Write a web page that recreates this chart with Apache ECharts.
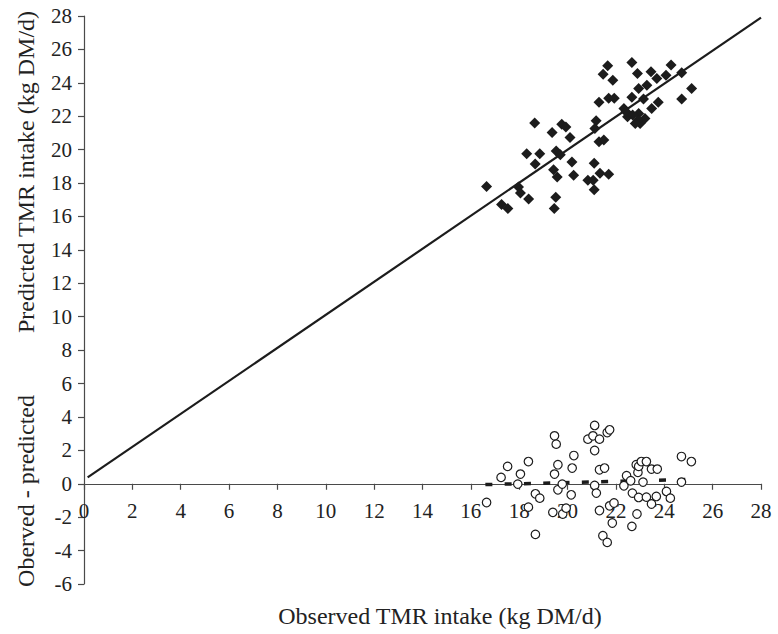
<!DOCTYPE html>
<html>
<head>
<meta charset="utf-8">
<title>Observed vs predicted TMR intake</title>
<script src="https://cdn.jsdelivr.net/npm/echarts@6/dist/echarts.min.js"></script>
<style>
  html, body { margin: 0; padding: 0; background: #ffffff; }
  #chart { width: 778px; height: 634px; }
</style>
</head>
<body>
<div id="chart"></div>
<script>
// Axis ticks (both axes step by 2)
var xTicks = [0, 2, 4, 6, 8, 10, 12, 14, 16, 18, 20, 22, 24, 26, 28];
var yTicks = [-6, -4, -2, 0, 2, 4, 6, 8, 10, 12, 14, 16, 18, 20, 22, 24, 26, 28];

// Observed intake (kg DM/d) for each diet/period
var observed = [16.65, 17.27, 17.53, 17.97, 18.05, 18.39, 18.31, 18.66, 18.85, 18.64,
                19.36, 19.76, 19.93, 20.10, 19.53, 19.70, 19.42, 19.57, 20.18, 20.25,
                19.51, 19.45, 20.84, 21.06, 21.10, 21.10, 21.34, 21.70, 21.18, 21.13,
                21.30, 21.50, 21.30, 21.70, 21.93, 21.47, 21.66, 21.87, 22.33, 22.48,
                22.66, 22.66, 22.89, 22.94, 23.14, 23.28, 23.45, 23.69, 23.48, 23.75,
                24.07, 24.28, 22.94, 23.00, 23.20, 24.72, 25.13, 24.72, 22.92, 22.80,
                22.42, 22.69];
// Predicted intake (kg DM/d)
var predicted = [17.80, 16.72, 16.47, 17.77, 17.40, 17.05, 19.75, 19.14, 19.75, 21.60,
                 21.03, 21.52, 21.35, 20.73, 19.92, 19.70, 18.80, 18.36, 19.26, 18.46,
                 17.15, 16.47, 18.17, 18.17, 17.60, 19.18, 18.58, 18.52, 21.73, 21.27,
                 20.47, 20.57, 22.83, 23.07, 23.07, 24.52, 25.02, 24.16, 22.47, 21.97,
                 23.13, 25.22, 24.56, 23.66, 23.03, 23.86, 24.66, 24.26, 22.47, 22.83,
                 24.46, 25.06, 22.17, 21.57, 21.87, 24.60, 23.66, 23.03, 21.77, 21.57,
                 22.27, 22.07];

// Residuals: observed minus predicted, plotted against observed
var residX = [16.65, 17.25, 17.52, 17.94, 18.05, 18.38, 18.38, 18.67, 18.85, 18.67,
              19.46, 19.53, 19.60, 19.46, 19.60, 19.78, 19.39, 19.80, 19.94, 20.26,
              20.19, 20.15, 20.84, 21.05, 21.12, 21.32, 21.12, 21.64, 21.74, 21.32,
              21.53, 21.12, 21.19, 21.32, 21.74, 21.92, 21.85, 21.46, 21.64, 22.44,
              22.33, 22.61, 22.68, 22.66, 22.87, 22.94, 22.91, 22.84, 22.94, 23.05,
              23.26, 23.12, 23.26, 23.47, 23.47, 23.71, 23.67, 24.09, 24.25, 24.71,
              25.12, 24.71];
var residY = [-1.12, 0.38, 1.04, -0.02, 0.58, 1.33, -1.40, -0.60, -0.86, -3.03,
              2.87, 2.37, 1.14, 0.58, -0.36, -0.02, -1.71, -1.81, -1.46, 1.69,
              0.94, -0.66, 2.67, 2.87, 3.49, 2.67, 1.99, 3.07, 3.23, 0.84,
              0.94, -0.10, -0.56, -1.60, -1.32, -1.15, -2.35, -3.11, -3.51, 0.48,
              -0.12, 0.18, -0.56, -2.55, -1.81, -0.82, 0.68, 1.14, 1.04, 1.33,
              1.33, 0.10, -0.80, -1.21, 0.88, 0.88, -0.76, -0.46, -0.86, 1.63,
              1.33, 0.10];

// Fitted line of predicted on observed, and of residual on observed
var fitX = [0.15, 28.0];
var fitY = [0.38, 27.9];
var residFitX = [16.6, 24.9];
var residFitY = [-0.05, 0.25];

// Axis titles
var xTitle = 'Observed TMR intake (kg DM/d)';
var yTitleTop = 'Predicted TMR intake (kg DM/d)';
var yTitleBottom = 'Oberved - predicted';

function pairs(xs, ys) {
  return xs.map(function (x, i) { return [x, ys[i]]; });
}

var SERIF = "'Liberation Serif', 'Times New Roman', serif";
var INK = '#1c1c1c';
var AXIS = '#4a4a4a';

var chart = echarts.init(document.getElementById('chart'), null, { renderer: 'svg' });

chart.setOption({
  backgroundColor: '#ffffff',
  animation: false,
  grid: { left: 84, right: 17, top: 16, bottom: 50, containLabel: false },
  xAxis: {
    type: 'value',
    min: xTicks[0],
    max: xTicks[xTicks.length - 1],
    interval: 2,
    offset: 0,
    axisLine: { onZero: false, lineStyle: { color: AXIS, width: 1.2 } },
    axisTick: { show: true, inside: false, length: 6, lineStyle: { color: AXIS, width: 1.2 } },
    axisLabel: { color: '#222', fontFamily: SERIF, fontSize: 21, margin: 17 },
    splitLine: { show: false }
  },
  yAxis: {
    type: 'value',
    min: yTicks[0],
    max: yTicks[yTicks.length - 1],
    interval: 2,
    axisLine: { show: true, onZero: false, lineStyle: { color: AXIS, width: 1.2 } },
    axisTick: { show: true, inside: false, length: 6, lineStyle: { color: AXIS, width: 1.2 } },
    axisLabel: { color: '#222', fontFamily: SERIF, fontSize: 21, margin: 12 },
    splitLine: { show: false }
  },
  graphic: [
    {
      type: 'text', x: 26, y: 172, rotation: Math.PI / 2,
      style: { text: yTitleTop, fill: '#222',
               font: '24px ' + SERIF, align: 'center', verticalAlign: 'middle' }
    },
    {
      type: 'text', x: 26, y: 491, rotation: Math.PI / 2,
      style: { text: yTitleBottom, fill: '#222',
               font: '24px ' + SERIF, align: 'center', verticalAlign: 'middle' }
    },
    {
      type: 'text', x: 440, y: 616,
      style: { text: xTitle, fill: '#222',
               font: '24px ' + SERIF, align: 'center', verticalAlign: 'middle' }
    }
  ],
  series: [
    {
      name: 'fit',
      type: 'line',
      data: pairs(fitX, fitY),
      showSymbol: false,
      lineStyle: { color: INK, width: 2.2 },
      z: 2
    },
    {
      name: 'predicted',
      type: 'scatter',
      data: pairs(observed, predicted),
      symbol: 'diamond',
      symbolSize: 11,
      itemStyle: { color: INK, opacity: 1 },
      z: 3
    },
    {
      name: 'residual fit',
      type: 'line',
      data: pairs(residFitX, residFitY),
      showSymbol: false,
      lineStyle: { color: INK, width: 3.5, type: [7, 12.3] },
      z: 2
    },
    {
      name: 'residual',
      type: 'scatter',
      data: pairs(residX, residY),
      symbol: 'circle',
      symbolSize: 8.5,
      itemStyle: { color: '#ffffff', borderColor: INK, borderWidth: 1.2, opacity: 1 },
      z: 4
    }
  ]
});

// The x axis crosses the y axis at zero: shift it up from the grid bottom
// by the distance the y scale puts between its minimum and zero.
var zeroPx = chart.convertToPixel({ yAxisIndex: 0 }, 0);
var minPx = chart.convertToPixel({ yAxisIndex: 0 }, yTicks[0]);
chart.setOption({ xAxis: { offset: zeroPx - minPx } });
</script>
</body>
</html>
